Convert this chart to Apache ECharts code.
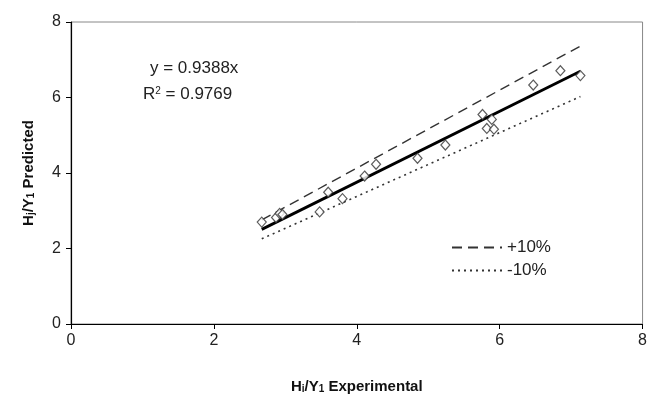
<!DOCTYPE html>
<html><head><meta charset="utf-8">
<script src="https://cdn.jsdelivr.net/npm/echarts@6/dist/echarts.min.js"></script>
<style>html,body{margin:0;padding:0;background:#fff}#c{width:650px;height:403px}</style>
</head><body><div id="c"></div>
<script>
var expX  = [2.67, 2.87, 2.92, 2.96, 3.48, 3.60, 3.80, 4.11, 4.27, 4.85, 5.24, 5.76, 5.82, 5.89, 5.92, 6.47, 6.85, 7.13];
var predY = [2.70, 2.82, 2.93, 2.90, 2.97, 3.49, 3.32, 3.92, 4.23, 4.39, 4.74, 5.55, 5.18, 5.42, 5.16, 6.33, 6.71, 6.58];
var slope = 0.9388;
var r2 = 0.9769;
var lineRange = [2.67, 7.13];
var xTicks = [0, 2, 4, 6, 8];
var yTicks = [0, 2, 4, 6, 8];

function linePts(k) { return lineRange.map(function (x) { return [x, k * slope * x]; }); }
var font = 'Arial, "Liberation Sans", sans-serif';
var chart = echarts.init(document.getElementById('c'));
chart.setOption({
  animation: false,
  grid: { left: 71, right: 5, top: 22, bottom: 79, show: true, borderColor: '#888', borderWidth: 1 },
  xAxis: {
    type: 'value', min: xTicks[0], max: xTicks[xTicks.length - 1], interval: 2,
    axisLine: { lineStyle: { color: '#000', width: 1.2 } },
    axisTick: { show: true, length: 5, lineStyle: { color: '#000' } },
    splitLine: { show: false },
    axisLabel: { fontSize: 16, color: '#222', fontFamily: font, margin: 9 },
    name: '{b|H}{s|i}{b|/Y}{s|1}{b| Experimental}', nameLocation: 'middle', nameGap: 52,
    nameTextStyle: { rich: {
      b: { fontSize: 15, fontWeight: 'bold', fontFamily: font, color: '#111', verticalAlign: 'bottom', lineHeight: 18 },
      s: { fontSize: 10, fontWeight: 'bold', fontFamily: font, color: '#111', verticalAlign: 'bottom', lineHeight: 10 }
    } }
  },
  yAxis: {
    type: 'value', min: yTicks[0], max: yTicks[yTicks.length - 1], interval: 2,
    axisLine: { show: true, lineStyle: { color: '#000', width: 1.2 } },
    axisTick: { show: true, length: 5, lineStyle: { color: '#000' } },
    splitLine: { show: false },
    axisLabel: { fontSize: 16, color: '#222', fontFamily: font, margin: 10 },
    name: '{b|H}{s|j}{b|/Y}{s|1}{b| Predicted}', nameLocation: 'middle', nameGap: 35,
    nameTextStyle: { rich: {
      b: { fontSize: 15, fontWeight: 'bold', fontFamily: font, color: '#111', verticalAlign: 'bottom', lineHeight: 18 },
      s: { fontSize: 10, fontWeight: 'bold', fontFamily: font, color: '#111', verticalAlign: 'bottom', lineHeight: 10 }
    } }
  },
  legend: {
    orient: 'vertical', left: 446, top: 234, itemWidth: 50, itemHeight: 10, itemGap: 6,
    data: ['+10%', '-10%'],
    itemStyle: { opacity: 0 },
    textStyle: { fontSize: 17, fontFamily: font, color: '#222' }
  },
  graphic: [
    { type: 'text', left: 150, top: 60, style: { text: 'y = ' + slope + 'x', fontSize: 17, fontFamily: font, fill: '#222' } },
    { type: 'text', left: 143, top: 86, style: { text: '{a|R}{p|2}{a| = ' + r2 + '}', fontSize: 17, fontFamily: font, fill: '#222',
      rich: { a: { fontSize: 17, fontFamily: font, fill: '#222', verticalAlign: 'top', lineHeight: 20 }, p: { fontSize: 10, fontFamily: font, fill: '#222', verticalAlign: 'top', lineHeight: 11 } } } }
  ],
  series: [
    { name: '+10%', type: 'line', data: linePts(1.1), symbol: 'none', lineStyle: { color: '#333', width: 1.4, type: [10, 6] }, itemStyle: { color: '#333' }, z: 2 },
    { name: '-10%', type: 'line', data: linePts(0.9), symbol: 'none', lineStyle: { color: '#333', width: 1.6, type: [2, 4] }, itemStyle: { color: '#333' }, z: 2 },
    { name: 'fit', type: 'line', data: linePts(1.0), symbol: 'none', lineStyle: { color: '#000', width: 2.8 }, z: 3 },
    { name: 'data', type: 'scatter', data: expX.map(function (x, i) { return [x, predY[i]]; }),
      symbol: 'diamond', symbolSize: [9, 10], itemStyle: { color: '#fff', borderColor: '#333', borderWidth: 1.2 }, z: 4 }
  ]
});
</script></body></html>
